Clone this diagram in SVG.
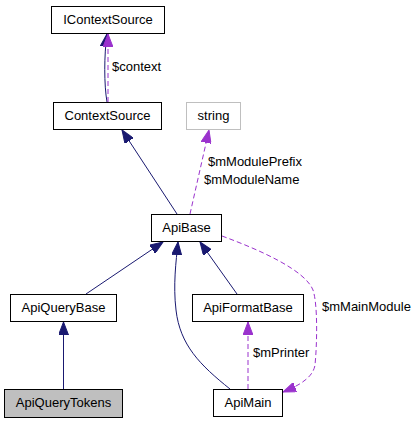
<svg xmlns="http://www.w3.org/2000/svg" width="416" height="424" viewBox="0 0 416 424">
<style>
.node rect{fill:#ffffff;stroke:#000000;stroke-width:1}
.node text,.lbl{font-family:"Liberation Sans",Arial,sans-serif;font-size:13px;fill:#000000}
.node text{text-anchor:middle}
.inh{fill:none;stroke:#191970;stroke-width:1}
.use{fill:none;stroke:#9a32cd;stroke-width:1;stroke-dasharray:5,3}
</style>
<defs>
<marker id="an" markerUnits="userSpaceOnUse" markerWidth="14" markerHeight="10" refX="13" refY="5" orient="auto">
<path d="M0,0 L13,5 L0,10 z" fill="#191970" stroke="#191970"/>
</marker>
<marker id="ap" markerUnits="userSpaceOnUse" markerWidth="14" markerHeight="10" refX="13" refY="5" orient="auto">
<path d="M0,0 L13,5 L0,10 z" fill="#9a32cd" stroke="#9a32cd"/>
</marker>
</defs>
<rect width="416" height="424" fill="#ffffff"/>
<g id="connectors">
<path class="inh" d="M107,102 C104,85 104,55 107,34" marker-end="url(#an)"/>
<path class="use" d="M108,102 L108,34" marker-end="url(#ap)"/>
<text class="lbl" x="112" y="71">$context</text>
<path class="inh" d="M177,214 L122,130" marker-end="url(#an)"/>
<path class="use" d="M190,214 L209,130" marker-end="url(#ap)"/>
<text class="lbl" x="208" y="166">$mModulePrefix</text>
<text class="lbl" x="204" y="184">$mModuleName</text>
<path class="inh" d="M86,294 L163,242" marker-end="url(#an)"/>
<path class="inh" d="M237,294 L200,242" marker-end="url(#an)"/>
<path class="inh" d="M230,389 C200,365 180,345 176,310 C173,285 176,262 178,242" marker-end="url(#an)"/>
<path class="inh" d="M63.5,389 L63.5,322" marker-end="url(#an)"/>
<path class="use" d="M222,236 C260,250 305,270 313,290 C318,305 317,345 315,365 C313,378 298,386 283,392" marker-end="url(#ap)"/>
<text class="lbl" x="322" y="311">$mMainModule</text>
<path class="use" d="M248,389 L248,322" marker-end="url(#ap)"/>
<text class="lbl" x="253" y="357">$mPrinter</text>
</g>
<g id="IContextSource" class="node"><rect x="51.5" y="6.5" width="113" height="27"/><text x="108" y="23.5">IContextSource</text></g>
<g id="ContextSource" class="node"><rect x="53.5" y="102.5" width="108" height="27"/><text x="107.5" y="119.5">ContextSource</text></g>
<g id="string" class="node"><rect x="186.5" y="102.5" width="54" height="27" style="stroke:#bfbfbf"/><text x="213.5" y="119.5">string</text></g>
<g id="ApiBase" class="node"><rect x="151.5" y="214.5" width="70" height="27"/><text x="186.5" y="231.5">ApiBase</text></g>
<g id="ApiQueryBase" class="node"><rect x="10.5" y="294.5" width="106" height="27"/><text x="63.5" y="311.5">ApiQueryBase</text></g>
<g id="ApiFormatBase" class="node"><rect x="192.5" y="294.5" width="111" height="27"/><text x="248" y="311.5">ApiFormatBase</text></g>
<g id="ApiQueryTokens" class="node"><rect x="4.5" y="389.5" width="118" height="28" style="fill:#bfbfbf"/><text x="63.5" y="407">ApiQueryTokens</text></g>
<g id="ApiMain" class="node"><rect x="213.5" y="389.5" width="69" height="27"/><text x="248" y="406.5">ApiMain</text></g>
</svg>
